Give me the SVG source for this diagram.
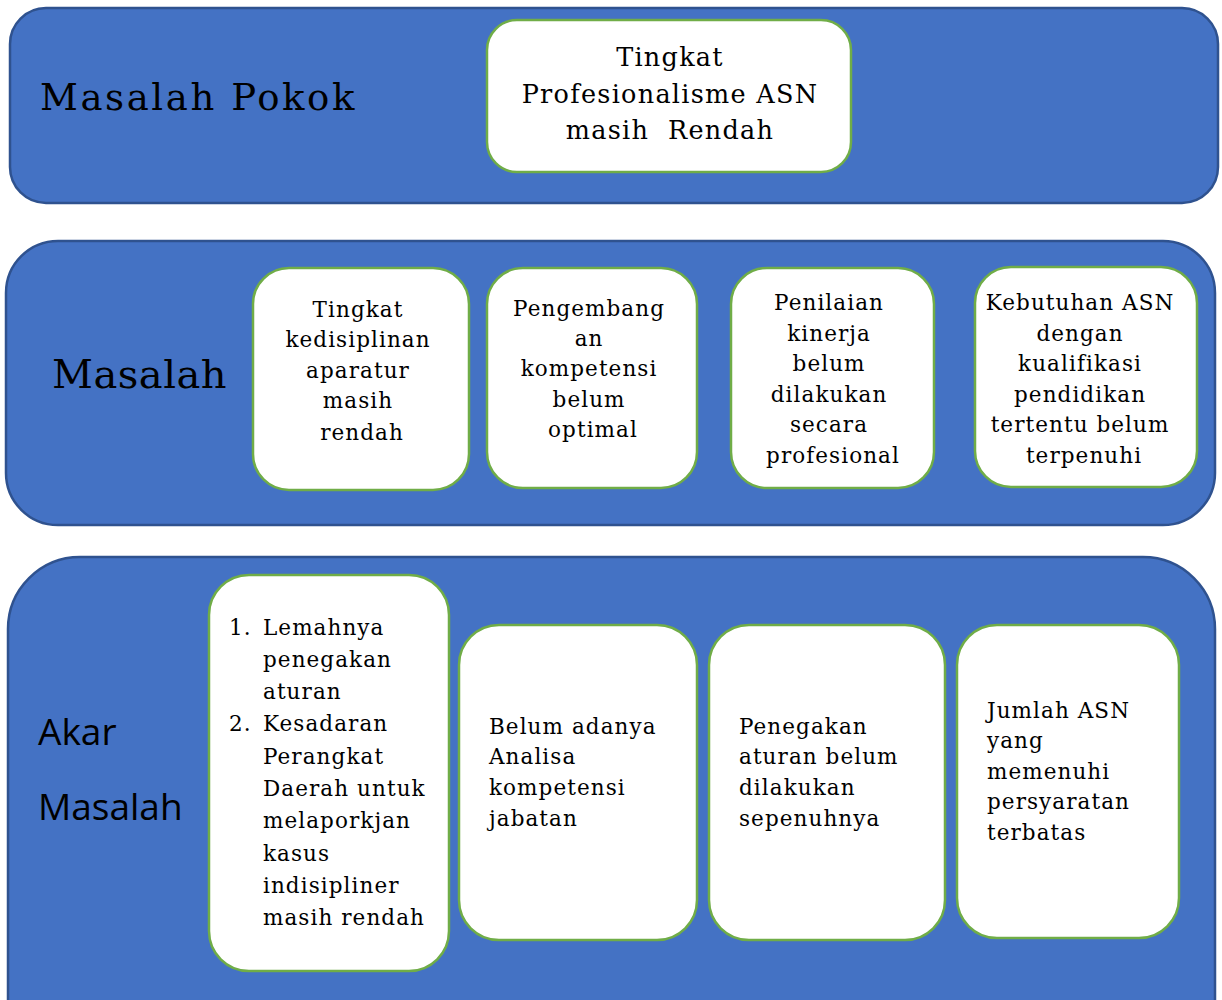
<svg xmlns="http://www.w3.org/2000/svg" width="1222" height="1000" viewBox="0 0 1222 1000">
  <style>
    .panel { fill: #4472C4; stroke: #2F528F; stroke-width: 2.5; }
    .box { fill: #FFFFFF; stroke: #70AD47; stroke-width: 2.5; }
    .serif { font-family: "DejaVu Serif", "Liberation Serif", serif; fill: #000; letter-spacing: 0.05em; }
    .sans { font-family: "Open Sans", "Noto Sans", "Liberation Sans", sans-serif; fill: #000; }
    .c { text-anchor: middle; }
    .t { font-size: 21.5px; }
  </style>

  <!-- Row 1: main problem -->
  <g id="panel-masalah-pokok">
    <rect class="panel" x="10" y="8" width="1208" height="195" rx="36"/>
    <text class="serif" x="40" y="110" font-size="37" style="letter-spacing:0.07em">Masalah Pokok</text>
  </g>
  <g id="node-pokok">
    <rect class="box" x="487" y="20" width="364" height="152" rx="30"/>
    <text class="serif c" x="670" y="66" font-size="25.5">Tingkat</text>
    <text class="serif c" x="670" y="103" font-size="25.5">Profesionalisme ASN</text>
    <text class="serif c" x="670" y="139" font-size="25.5" xml:space="preserve">masih  Rendah</text>
  </g>

  <!-- Row 2: problems -->
  <g id="panel-masalah">
    <rect class="panel" x="6" y="241" width="1209" height="284" rx="52"/>
    <text class="serif" x="52" y="388" font-size="40" style="letter-spacing:0.5px">Masalah</text>
  </g>
  <g id="node-masalah-1">
    <rect class="box" x="253" y="268" width="216" height="222" rx="36"/>
    <text class="serif c t">
      <tspan x="362" y="317">Tingkat</tspan>
      <tspan x="362" y="347">kedisiplinan</tspan>
      <tspan x="362" y="378">aparatur</tspan>
      <tspan x="362" y="408">masih</tspan>
      <tspan x="362" y="440">rendah</tspan>
    </text>
  </g>
  <g id="node-masalah-2">
    <rect class="box" x="487" y="268" width="210" height="220" rx="36"/>
    <text class="serif c t">
      <tspan x="593" y="316">Pengembang</tspan>
      <tspan x="593" y="346">an</tspan>
      <tspan x="593" y="376">kompetensi</tspan>
      <tspan x="593" y="407">belum</tspan>
      <tspan x="593" y="437">optimal</tspan>
    </text>
  </g>
  <g id="node-masalah-3">
    <rect class="box" x="731" y="268" width="203" height="220" rx="36"/>
    <text class="serif c t">
      <tspan x="833" y="310">Penilaian</tspan>
      <tspan x="833" y="341">kinerja</tspan>
      <tspan x="833" y="371">belum</tspan>
      <tspan x="833" y="402">dilakukan</tspan>
      <tspan x="833" y="432">secara</tspan>
      <tspan x="833" y="463">profesional</tspan>
    </text>
  </g>
  <g id="node-masalah-4">
    <rect class="box" x="975" y="267" width="222" height="220" rx="36"/>
    <text class="serif c t">
      <tspan x="1084" y="310">Kebutuhan ASN</tspan>
      <tspan x="1084" y="341">dengan</tspan>
      <tspan x="1084" y="371">kualifikasi</tspan>
      <tspan x="1084" y="402">pendidikan</tspan>
      <tspan x="1084" y="432">tertentu belum</tspan>
      <tspan x="1084" y="463">terpenuhi</tspan>
    </text>
  </g>

  <!-- Row 3: root causes -->
  <g id="panel-akar-masalah">
    <rect class="panel" x="8" y="557" width="1207" height="520" rx="72"/>
    <text class="sans" x="38" y="745" font-size="37">Akar</text>
    <text class="sans" x="38" y="820" font-size="37">Masalah</text>
  </g>
  <g id="node-akar-1">
    <rect class="box" x="209" y="575" width="240" height="396" rx="40"/>
    <text class="serif t">
      <tspan x="229" y="635">1.</tspan>
      <tspan x="229" y="731">2.</tspan>
    </text>
    <text class="serif t">
      <tspan x="263" y="635">Lemahnya</tspan>
      <tspan x="263" y="667">penegakan</tspan>
      <tspan x="263" y="699">aturan</tspan>
      <tspan x="263" y="731">Kesadaran</tspan>
      <tspan x="263" y="764">Perangkat</tspan>
      <tspan x="263" y="796">Daerah untuk</tspan>
      <tspan x="263" y="828">melaporkjan</tspan>
      <tspan x="263" y="861">kasus</tspan>
      <tspan x="263" y="893">indisipliner</tspan>
      <tspan x="263" y="925">masih rendah</tspan>
    </text>
  </g>
  <g id="node-akar-2">
    <rect class="box" x="459" y="625" width="238" height="315" rx="40"/>
    <text class="serif t">
      <tspan x="489" y="734">Belum adanya</tspan>
      <tspan x="489" y="764">Analisa</tspan>
      <tspan x="489" y="795">kompetensi</tspan>
      <tspan x="489" y="826">jabatan</tspan>
    </text>
  </g>
  <g id="node-akar-3">
    <rect class="box" x="709" y="625" width="236" height="315" rx="40"/>
    <text class="serif t">
      <tspan x="739" y="734">Penegakan</tspan>
      <tspan x="739" y="764">aturan belum</tspan>
      <tspan x="739" y="795">dilakukan</tspan>
      <tspan x="739" y="826">sepenuhnya</tspan>
    </text>
  </g>
  <g id="node-akar-4">
    <rect class="box" x="957" y="625" width="222" height="313" rx="40"/>
    <text class="serif t">
      <tspan x="987" y="718">Jumlah ASN</tspan>
      <tspan x="987" y="748">yang</tspan>
      <tspan x="987" y="779">memenuhi</tspan>
      <tspan x="987" y="809">persyaratan</tspan>
      <tspan x="987" y="840">terbatas</tspan>
    </text>
  </g>

  <!-- no connectors are drawn between the rows -->
  <g id="connectors"/>
</svg>
